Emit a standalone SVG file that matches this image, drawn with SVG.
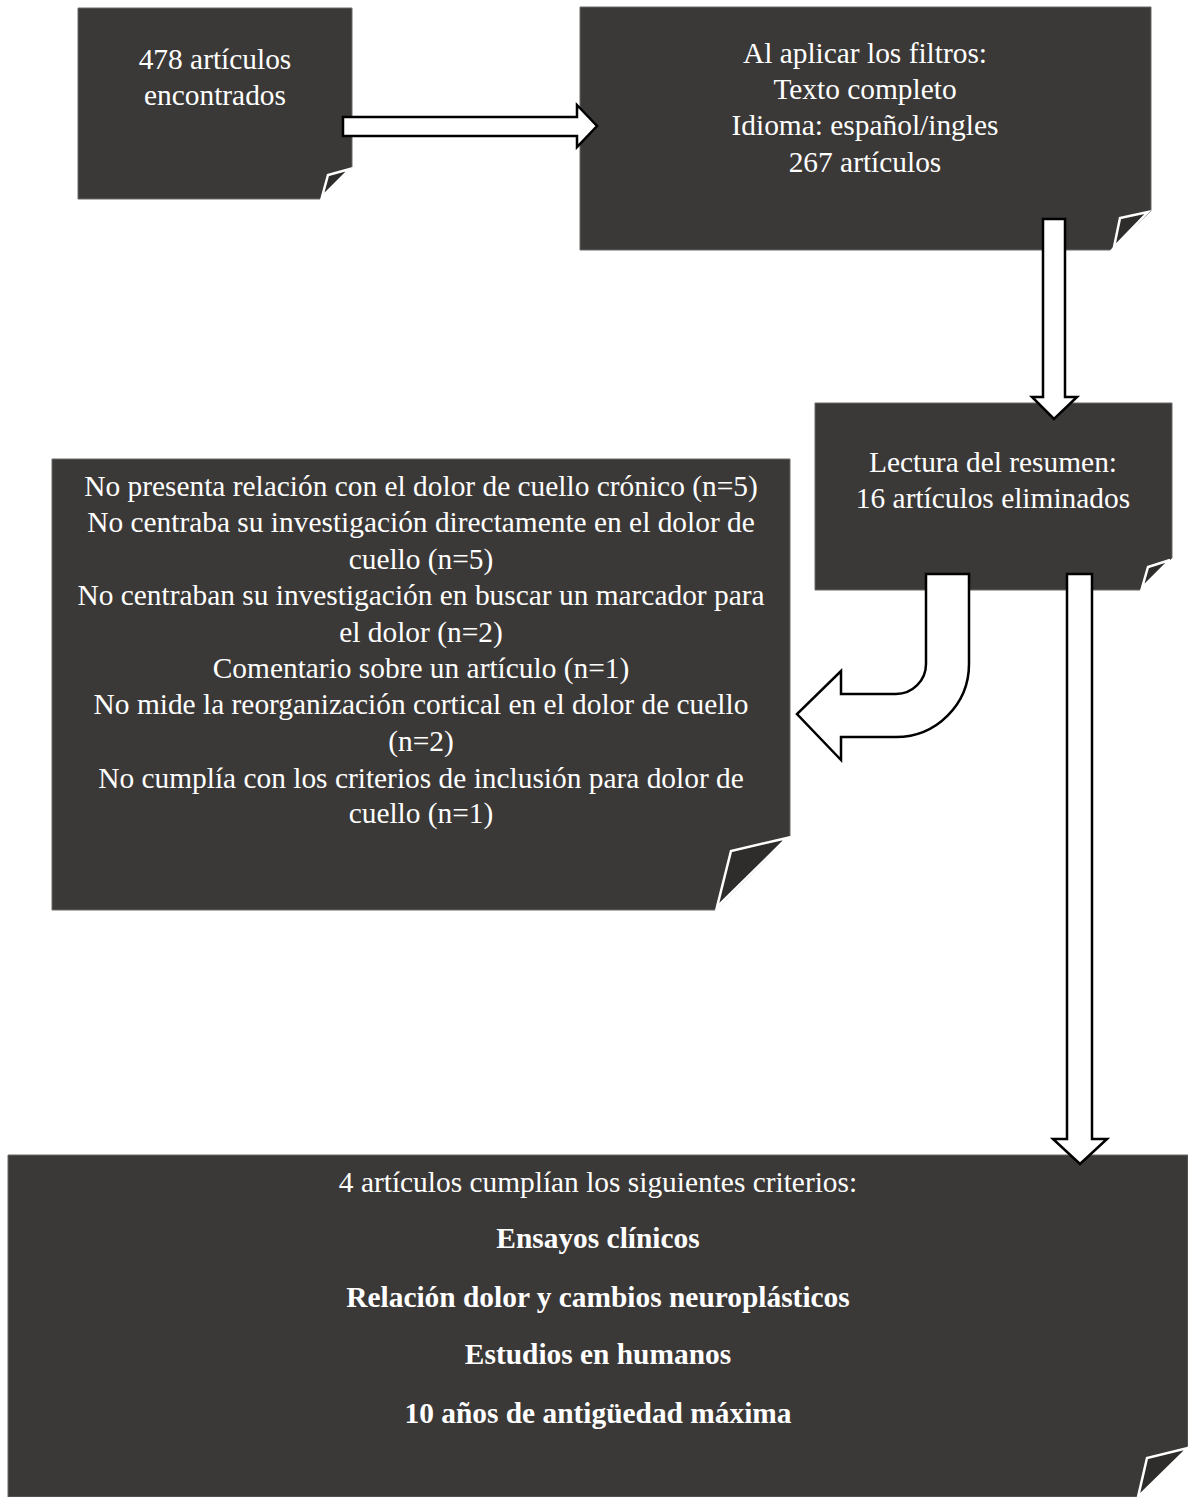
<svg xmlns="http://www.w3.org/2000/svg" width="1188" height="1497" viewBox="0 0 1188 1497">
<style>
.box{fill:#3b3937;stroke:#6a6866;stroke-width:1}
.fold{fill:#2f2d2c;stroke:#ffffff;stroke-width:2.5;stroke-linejoin:miter}
.t{font-family:"Liberation Serif","Times New Roman",serif;font-size:29.4px;fill:#ffffff;text-anchor:middle}
.b{font-weight:bold}
.arr{fill:#ffffff;stroke:#000000;stroke-width:2.5;stroke-linejoin:miter}
</style>
<rect width="1188" height="1497" fill="#ffffff"/>
<g id="node-found">
<polygon class="box" points="78,8 352,8 352,168 321,199 78,199"/>
<polygon class="fold" points="350,169 328,175 322,197"/>
<text class="t" x="215" y="69">478 artículos</text>
<text class="t" x="215" y="105">encontrados</text>
</g>
<g id="node-filters">
<polygon class="box" points="580,7 1151,7 1151,211 1110,250 580,250"/>
<polygon class="fold" points="1148,212 1120,218 1114,247"/>
<text class="t" x="865" y="63">Al aplicar los filtros:</text>
<text class="t" x="865" y="99">Texto completo</text>
<text class="t" x="865" y="135">Idioma: español/ingles</text>
<text class="t" x="865" y="172">267 artículos</text>
</g>
<g id="node-abstract">
<polygon class="box" points="815,403 1172,403 1172,558 1140,590 815,590"/>
<polygon class="fold" points="1170,560 1148,567 1142,588"/>
<text class="t" x="993" y="472">Lectura del resumen:</text>
<text class="t" x="993" y="508">16 artículos eliminados</text>
</g>
<g id="node-excluded">
<polygon class="box" points="52,459 790,459 790,836 715,910 52,910"/>
<polygon class="fold" points="787,838 731,851 717,907"/>
<text class="t" x="421" y="496">No presenta relación con el dolor de cuello crónico (n=5)</text>
<text class="t" x="421" y="532">No centraba su investigación directamente en el dolor de</text>
<text class="t" x="421" y="569">cuello (n=5)</text>
<text class="t" x="421" y="605">No centraban su investigación en buscar un marcador para</text>
<text class="t" x="421" y="642">el dolor (n=2)</text>
<text class="t" x="421" y="678">Comentario sobre un artículo (n=1)</text>
<text class="t" x="421" y="714">No mide la reorganización cortical en el dolor de cuello</text>
<text class="t" x="421" y="751">(n=2)</text>
<text class="t" x="421" y="788">No cumplía con los criterios de inclusión para dolor de</text>
<text class="t" x="421" y="823">cuello (n=1)</text>
</g>
<g id="node-included">
<polygon class="box" points="8,1155 1188,1155 1188,1446 1137,1497 8,1497"/>
<polygon class="fold" points="1188,1448 1147,1458 1138,1497"/>
<text class="t" x="598" y="1192">4 artículos cumplían los siguientes criterios:</text>
<text class="t b" x="598" y="1248">Ensayos clínicos</text>
<text class="t b" x="598" y="1307">Relación dolor y cambios neuroplásticos</text>
<text class="t b" x="598" y="1364">Estudios en humanos</text>
<text class="t b" x="598" y="1423">10 años de antigüedad máxima</text>
</g>
<g id="connectors">
<polygon class="arr" points="343,117 577,117 577,105 597,126 577,147 577,136 343,136"/>
<polygon class="arr" points="1043,219 1065,219 1065,397 1077,397 1054,419 1032,397 1043,397"/>
<path class="arr" d="M926,574 L969,574 L969,664 A73,73 0 0 1 896,737 L841,737 L841,760 L797,714 L841,671 L841,694 L896,694 A30,30 0 0 0 926,664 Z"/>
<polygon class="arr" points="1067,574 1092,574 1092,1139 1107,1139 1080,1164 1053,1139 1067,1139"/>
</g>
</svg>
